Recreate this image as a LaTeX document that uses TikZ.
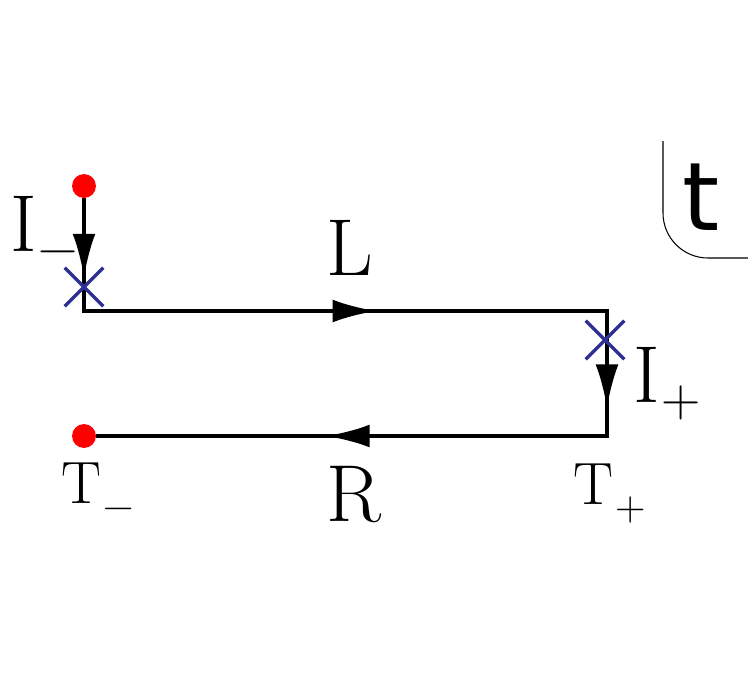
\documentclass[tikz,border=0pt]{standalone}
\usepackage{fontspec}
\newfontfamily\tfont{DejaVu Sans}
\usetikzlibrary{arrows.meta,decorations.markings,shapes.misc}
\definecolor{xblue}{RGB}{46,49,146}
\newcommand{\bigsub}[1]{\kern1pt\raisebox{-8.3pt}{\fontsize{31}{37}\selectfont #1}}
\newcommand{\smallsub}[1]{\kern1pt\raisebox{-9.5pt}{\fontsize{24}{29}\selectfont #1}}

\begin{document}
\begin{tikzpicture}
[x=0.02cm,y=-0.02cm,
    wire/.style={line width=2.2pt,line join=miter},
    flow/.style={postaction={decorate},decoration={markings,
      mark=at position 0.0625 with {\arrow{Latex[length=25pt,width=13pt]}},
      mark=at position 0.3187 with {\arrow{Latex[length=25pt,width=13pt]}},
      mark=at position 0.5766 with {\arrow{Latex[length=25pt,width=13pt]}},
      mark=at position 0.8195 with {\arrow{Latex[length=25pt,width=13pt]}}}},
    src/.style={circle,fill=red,inner sep=0pt,minimum size=13.6pt},
    ins/.style={cross out,draw=xblue,line width=2pt,minimum size=20pt,inner sep=0pt},
    big/.style={font=\fontsize{46}{54}\selectfont,anchor=base},
    small/.style={font=\fontsize{34}{41}\selectfont,anchor=base}]
\useasboundingbox (0,0) rectangle (748,680);
%%%%%%%%%%
%% nodes
\node (start) [src] at (84,186) {};
\node (tm) [src] at (84,436) {};
\coordinate (cl) at (84,311);
\coordinate (cr) at (607,311);
\coordinate (tp) at (607,436);
%% contour
\draw[wire,flow] (start) -- (cl) -- (cr) -- (tp) -- (tm);
%% insertions
\node (xl) [ins] at (84,287) {};
\node (xr) [ins] at (605,340) {};
%% labels
\node (lim) [big] at (44,251) {I\bigsub{−}};
\node (ll) [big] at (350,275) {L};
\node (lip) [big] at (667,402) {I\bigsub{+}};
\node (ltm) [small] at (98,503) {T\smallsub{−}};
\node (lr) [big] at (354,521) {R};
\node (ltp) [small] at (610,504) {T\smallsub{+}};
%% plane label
\coordinate (ftop) at (663,141);
\coordinate (fcor) at (663,258);
\coordinate (fend) at (748,258);
\draw[line width=0.6pt,rounded corners=0.9cm] (ftop) -- (fcor) -- (fend);
\node (tl) [font=\tfont\fontsize{54}{60}\selectfont,anchor=base] at (701,230) {t};
%%
\end{tikzpicture}
\end{document}
